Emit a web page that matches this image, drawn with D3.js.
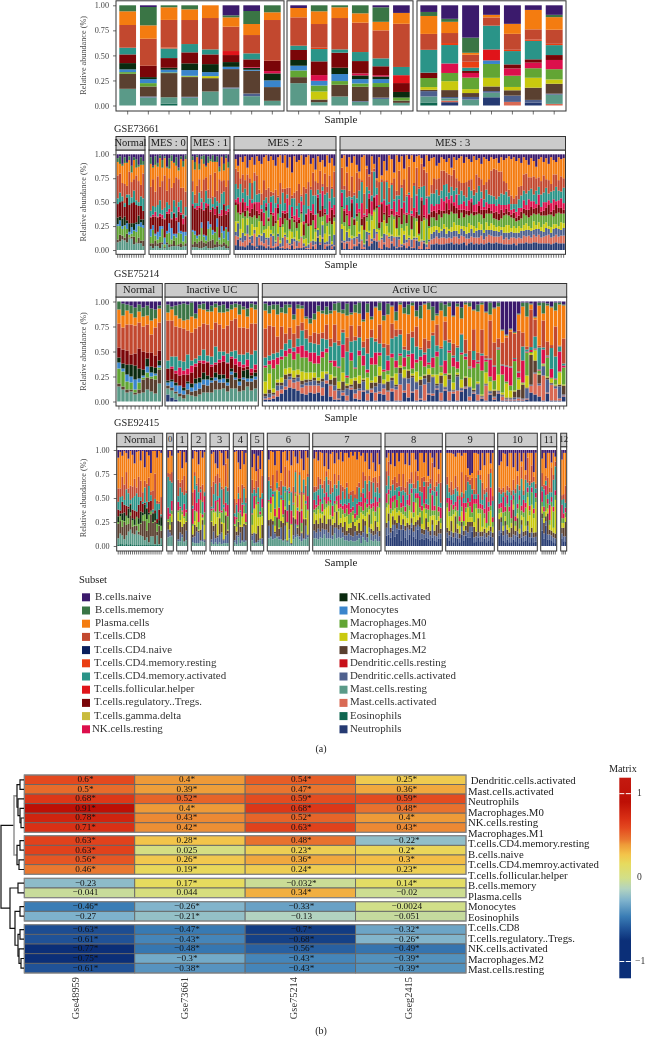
<!DOCTYPE html>
<html><head><meta charset="utf-8">
<script src="https://cdn.jsdelivr.net/npm/d3@7/dist/d3.min.js"></script>
<style>html,body{margin:0;background:#fff}svg{display:block;filter:blur(.3px)}text{font-family:"Liberation Serif",serif}</style>
</head><body><svg id="c" width="645" height="1039"></svg>
<script>
const subsets=["B.cells.naive","B.cells.memory","Plasma.cells","T.cells.CD8","T.cells.CD4.naive","T.cells.CD4.memory.resting","T.cells.CD4.memory.activated","T.cells.follicular.helper","T.cells.regulatory..Tregs.","T.cells.gamma.delta","NK.cells.resting","NK.cells.activated","Monocytes","Macrophages.M0","Macrophages.M1","Macrophages.M2","Dendritic.cells.resting","Dendritic.cells.activated","Mast.cells.resting","Mast.cells.activated","Eosinophils","Neutrophils"];
const subsetColors=["#3b1a6c","#3a7545","#f47c10","#c2482f","#0a1f5c","#ea3e12","#2a9488","#e0141a","#7a0508","#c9bb3c","#dc0f4c","#0a2a0f","#3a85cc","#62a534","#c9c90e","#5a4030","#c8101a","#4e608e","#5a9a88","#d96a55","#0f6650","#253a72"];
const [nv,mm,pl,c8,cn,cr,ca,tf,tr,gd,nr,na,mo,m0,m1,m2,dr,da,ms,ma,eo,ne]=subsets;

// GSE48959 (top panel): percent per subset, listed top of bar to bottom of bar
const topKeys=[nv,mm,pl,c8,cr,ca,tf,tr,nr,na,mo,m0,m1,m2,da,ms,ma,eo,ne];
const topA=[
[0,6,13.7,22.7,0,6.7,0,8.7,0,6.3,2.7,1.7,0,15,0,16.7,0,0,0],
[1.7,18.3,13.3,27,0,0,0,11.3,0,2,4,3.3,0,10,1,8,0,0,0],
[0,2,12.7,27.7,1,9.7,0,9.7,0,2,2.7,.7,0,24.3,0,6.3,0,2,0],
[0,4,10.7,24,0,8.3,0,11,0,6.7,5.7,.7,.6,19.7,.7,8,0,0,0],
[0,0,12.7,31.3,0,5,0,9.7,0,8,4,0,2,13.3,0,14,0,0,0],
[10,2,9.3,24.3,0,0,4,7,0,4.7,2.3,0,0,18.3,1,17,0,0,0],
[5.7,13,11,18.3,0,6,0,7.7,.7,2,1,0,0,22.7,2.7,9.3,0,0,0],
[0,7,7.7,40.7,0,0,0,10.3,2.3,7,6.7,0,0,13.7,0,4.7,0,0,0]];
const topB=[
[2.7,0,9.3,28.3,0,4.3,0,10,0,5.7,4.7,6.7,0,6,0,22.3,0,0,0],
[0,6,12.7,23.7,1.3,12.3,0,13.7,5.7,0,4.7,6,8,2.7,0,3.3,0,0,0],
[0,2,10.7,31.3,0,3.3,0,15,0,6.3,7,3.7,0,11.7,0,9,0,0,0],
[0,8,9.3,29.3,0,9,0,12.3,2,3.7,4.3,3.3,0,14.3,.7,3.7,0,0,0],
[2,14.7,8.7,28.3,0,8,0,9,1.3,2.7,4,4,0,10.7,1.3,6.7,0,0,0],
[7.7,0,11,43.7,0,8.3,8,9,0,5.7,0,3,0,2.3,0,2.7,0,0,0]];
const topC=[
[6.6,4,17.8,15.8,0,22.7,0,5.3,0,0,0,9,2.7,1.3,5.3,6,0,3,0],
[13.5,3,11.2,10,2,18.4,0,0,9.5,0,0,8.2,8.9,6.9,1.3,2.3,1.6,0,3.3],
[32.2,15.1,2,6.9,5.9,3.3,0,2,4.6,0,0,11.5,3.9,3.9,2.6,5.9,0,0,0],
[9.5,0,2.6,8.2,0,23.7,10.9,0,0,0,3.6,13.8,8.6,4.6,1.6,4.6,0,0,8.2],
[18.4,0,9.9,15.8,1.3,13.2,0,4,7.2,0,0,11.2,3.3,5.3,6.2,0,3.6,0,0],
[4.6,0,19.4,10.2,1.3,18.4,0,3.3,5.6,0,0,9.5,9.9,12.2,2.6,0,0,0,3],
[9.5,2.3,12.5,14.1,1.3,9.9,0,4.9,9.2,0,0,10.2,4.3,9.9,1,9.2,1.6,0,0]];

// GSE73661: percent per subset
const keysMesNormal=[nv,mm,pl,c8,ca,tr,na,mo,m0,m2,ms];
const mesNormal=[
[4,4,14,24,6,14,7,2,14,3,8],[2,8,10,20,10,15,4,6,9,7,9],[10,2,18,14,5,18,8,3,7,4,11],[3,6,22,20,4,10,9,1,12,3,10],
[8,1,24,9,3,24,3,6,5,9,8],[2,4,12,24,11,19,9,3,3,1,12],[12,7,10,16,6,21,4,7,3,2,12],[3,3,20,12,12,22,7,1,6,8,6],
[5,9,8,26,5,18,2,8,11,1,7],[11,2,15,22,4,10,9,2,12,6,7],[3,8,21,12,10,14,3,5,14,3,7],[7,4,9,26,13,9,6,3,13,6,4]];
const keysMesEarly=[nv,mm,pl,c8,ca,nr,tr,mo,m0,m2,ms];
const mes0=[
[3,7,24,25,6,1,12,8,7,3,4],[12,2,12,28,9,2,9,5,14,5,2],[2,9,28,16,5,5,18,2,5,6,4],[9,4,10,30,12,1,15,8,4,3,4],
[1,3,30,14,14,3,10,11,6,6,2],[6,8,14,30,5,4,8,3,14,2,6],[2,2,18,34,11,1,19,7,3,1,2],[13,1,24,12,10,2,18,3,9,2,6],
[4,11,10,28,4,5,10,10,12,3,3],[1,6,28,25,7,1,9,12,5,2,4],[8,1,21,18,13,1,21,2,5,6,4],[3,9,12,31,11,3,14,4,8,1,4],
[14,3,9,24,5,5,11,11,12,2,4],[2,3,30,13,13,2,17,3,10,4,3],[7,6,22,28,4,6,8,10,4,1,4],[1,4,34,16,9,1,16,4,8,3,4]];
const mes1=[
[2,4,22,11,13,2,25,2,13,3,3],[8,8,26,9,5,1,23,4,7,6,3],[1,2,30,18,3,4,27,3,5,4,3],[10,6,10,14,14,2,28,1,6,7,2],
[2,3,33,8,4,7,14,6,13,8,2],[1,9,16,24,8,1,25,2,6,5,3],[12,1,11,14,13,5,29,5,3,3,4],[2,7,28,9,6,2,16,8,13,7,2],
[5,2,14,25,12,2,13,3,14,8,2],[1,7,36,8,3,1,23,5,5,9,2],[7,1,11,26,12,6,18,1,12,3,3],[2,6,30,11,5,1,12,9,15,6,3],
[13,5,8,25,11,2,23,2,5,2,4],[2,1,25,13,17,6,11,7,12,3,3],[10,7,10,12,13,1,27,8,4,4,4],[1,3,30,20,5,4,13,2,16,4,2],
[8,6,13,26,4,3,21,9,6,2,2]];
const keysMesLate=[nv,pl,c8,ca,nr,tr,m0,m1,da,ma,ne];
const mes2=[
[5,10,16,16,3,3,17,11,4,10,5],[12,6,18,9,7,9,9,2,14,3,11],[3,22,6,19,11,2,15,9,3,6,4],[8,13,19,6,4,11,6,15,10,4,4],
[2,25,9,14,9,6,18,2,5,7,3],[14,7,22,11,2,3,8,7,9,12,5],[6,19,5,17,14,4,20,1,3,3,8],[3,27,17,4,6,9,7,12,8,2,5],
[11,8,9,22,2,12,12,3,4,13,4],[2,20,20,8,9,8,9,10,11,1,2],[7,30,4,9,12,2,6,14,3,8,5],[10,31,12,4,3,10,13,2,6,4,5],
[3,24,21,13,13,1,4,3,11,3,4],[1,36,8,6,4,4,19,9,2,9,2],[7,28,16,15,1,3,5,12,8,1,4],[2,37,5,6,11,2,16,4,3,12,2],
[6,34,3,18,3,11,8,2,11,2,2],[12,25,14,5,13,3,18,1,2,4,3],[3,40,2,7,4,6,7,14,3,10,4],[1,29,22,14,9,1,14,3,4,1,2],
[9,27,4,19,2,12,3,11,9,2,2],[1,35,15,8,3,5,15,2,2,13,1],[14,21,7,4,15,8,18,2,4,5,2],[3,32,18,14,1,10,2,13,2,4,1],
[19,24,3,9,10,2,14,7,6,1,5],[2,38,6,18,4,3,16,1,3,8,1],[8,30,16,3,13,7,3,10,6,2,2],[6,25,20,15,2,4,17,2,1,6,2],
[1,41,2,5,11,2,9,15,1,11,2],[11,23,19,17,3,12,4,4,3,1,3],[3,33,5,21,1,9,16,8,2,1,1],[1,28,25,3,15,3,18,1,4,1,1],
[10,24,3,22,2,13,1,16,1,7,1],[4,15,24,9,11,6,20,1,5,1,4],[16,12,15,20,14,1,3,10,3,5,1],[2,28,7,5,3,17,15,2,7,1,13],
[9,10,26,19,1,7,21,8,1,2,6],[6,25,3,4,16,11,5,4,13,1,12],[13,7,22,15,4,2,20,9,2,5,1],[1,33,6,23,8,1,3,16,3,2,4],
[9,13,24,3,17,4,14,1,9,1,5],[4,30,2,20,2,15,18,3,2,3,1],[12,6,27,8,10,3,4,14,11,1,4]];
const mes3=[
[4,10,23,3,14,1,18,5,13,1,8],[1,32,4,20,2,12,4,15,2,7,1],[13,6,26,8,9,2,16,1,10,2,7],[3,35,6,15,15,1,3,9,4,8,1],
[9,14,22,2,4,15,19,3,1,10,1],[2,38,3,24,1,6,12,1,7,2,4],[11,8,27,5,11,3,5,16,2,8,4],[18,7,13,19,3,1,20,2,9,1,7],
[3,24,2,22,16,7,1,14,1,9,1],[1,40,21,1,2,14,14,1,3,2,1],[12,3,19,23,7,2,4,11,8,1,10],[21,2,15,3,5,16,18,2,2,12,4],
[2,16,25,6,14,1,5,19,3,2,7],[10,5,3,26,1,13,2,18,10,2,10],[25,2,8,7,12,2,22,3,2,8,9],[3,26,24,2,16,6,2,11,1,7,2],
[22,4,3,21,2,19,15,1,2,10,1],[7,21,19,1,13,2,6,14,9,2,6],[17,10,2,24,1,18,3,9,1,12,3],[1,34,15,2,12,2,16,4,2,10,2],
[5,25,2,25,2,4,21,1,6,2,7],[19,6,22,2,15,1,3,18,1,9,4],[1,37,5,17,3,14,1,8,11,1,2],[8,9,26,4,17,2,19,1,3,8,3],
[2,30,3,21,1,16,4,17,2,1,3],[15,11,23,1,12,1,17,4,9,2,5],[1,41,2,17,2,9,3,14,3,6,2],[5,8,27,2,20,1,22,2,2,7,4],
[1,44,14,3,2,14,1,10,8,1,2],[8,22,3,23,9,1,20,1,2,9,2],[2,12,28,1,17,7,3,17,2,1,10],[1,33,2,27,1,19,2,6,5,3,1],
[4,6,24,11,3,22,19,1,1,8,1],[13,3,17,20,11,2,3,21,2,1,7],[1,18,25,2,21,1,25,1,3,2,1],[7,36,1,18,1,12,2,12,2,8,1],
[4,28,9,11,8,6,10,7,6,5,6],[3,22,16,13,5,7,9,6,7,6,6],[12,14,11,15,9,8,6,4,7,7,7],[9,16,18,9,6,5,13,6,6,6,6],
[3,14,21,8,13,7,12,2,7,7,6],[5,12,15,17,10,3,11,5,9,7,6],[8,11,12,13,7,11,14,7,5,5,7],[4,17,19,7,11,5,15,2,7,6,7],
[14,8,12,9,8,9,16,5,7,4,8],[3,13,22,12,4,8,9,9,6,8,6],[6,19,10,7,14,6,12,6,6,7,7],[4,24,14,11,5,9,7,9,5,6,6],
[2,28,8,14,6,3,14,3,7,8,7],[9,21,13,6,9,8,9,5,6,6,8],[3,26,16,9,5,4,13,7,5,7,5],[5,22,7,14,11,5,8,10,6,5,7],
[8,18,12,8,4,12,12,4,8,6,8],[2,35,6,10,7,4,11,7,5,7,6],[6,15,19,12,8,3,14,3,7,6,7],[4,20,9,16,5,8,9,8,8,7,6],
[10,16,13,7,12,5,10,6,6,8,7],[3,29,15,8,3,9,12,3,7,5,6],[5,24,8,13,8,4,9,8,7,7,7],[7,19,16,10,4,6,13,4,5,8,8],
[3,14,26,9,7,3,10,7,6,8,7],[5,10,29,8,9,6,7,6,6,7,7],[4,12,31,7,6,8,8,4,6,6,8],[9,9,26,8,10,7,6,6,5,7,7],
[3,15,23,12,5,9,9,3,6,8,7],[6,22,14,11,8,3,12,6,7,5,6],[4,26,9,14,4,6,11,8,5,7,6],[2,35,7,8,8,4,10,8,7,5,6],
[5,38,9,6,5,3,11,4,6,7,6],[3,43,6,5,4,6,8,7,5,6,7],[7,36,9,8,6,4,7,5,6,7,5],[4,30,13,9,8,5,6,7,5,6,7],
[9,24,10,13,4,7,10,3,8,5,7],[3,18,17,10,9,5,12,6,5,8,7],[6,14,21,12,5,6,8,7,7,6,8],[11,13,14,9,11,8,9,4,6,8,7],
[4,20,12,13,6,9,13,3,7,6,7],[7,16,19,7,8,5,8,9,5,8,8],[13,12,13,14,4,7,11,4,8,6,8],[5,19,10,8,11,9,9,7,6,9,7],
[3,25,14,13,5,4,12,4,7,6,7],[8,14,18,10,9,5,9,8,5,7,7],[4,22,9,15,6,8,7,6,8,8,7],[10,17,14,7,5,10,12,3,6,9,7],
[3,28,8,12,9,3,13,6,5,7,6],[6,15,17,9,11,7,8,5,8,7,7],[8,13,13,15,4,9,11,4,7,8,8],[3,24,11,10,8,5,14,3,8,7,7],
[5,18,16,7,10,6,9,8,6,8,7],[4,21,10,16,7,4,10,5,8,8,7]];

// GSE75214: percent per subset
const keysUcNormal=[nv,mm,pl,c8,tr,na,mo,m0,m2,ms];
const ucNormal=[
[0,8,14,24,10,5,6,15,3,15],[2,12,12,22,14,5,3,15,3,12],[3,6,14,26,14,10,7,8,3,9],[4,8,11,30,10,12,6,7,2,10],
[6,10,8,28,12,14,10,3,2,7],[3,7,11,26,20,10,4,7,4,8],[6,9,10,25,18,6,2,2,13,9],[4,10,9,28,6,8,6,5,12,12],
[7,12,14,18,14,6,4,2,13,10],[8,9,9,28,12,6,2,4,14,8],[4,3,14,28,10,5,2,2,14,18]];
const keysUcInactive=[nv,mm,pl,c8,ca,nr,tr,na,mo,m2,ms,ne];
const ucInactive=[
[3,8,8,40,8,0,12,2,3,3,6,7],[5,3,11,36,10,2,11,2,6,3,7,4],[4,10,11,30,14,3,9,3,6,2,6,2],[3,14,9,33,7,8,10,0,8,3,5,0],
[2,17,8,33,9,4,13,3,4,4,3,0],[3,15,11,24,14,6,7,2,6,5,7,0],[1,14,16,28,5,7,11,4,4,4,6,0],[12,5,10,30,5,3,12,5,7,6,5,0],
[3,4,18,29,5,2,15,5,6,6,7,0],[2,6,14,26,11,3,9,7,5,8,9,0],[8,2,13,31,6,1,13,4,6,7,9,0],[4,6,18,27,8,2,11,3,2,10,9,0],
[2,4,15,24,16,2,8,5,3,9,12,0],[4,7,12,27,8,3,12,5,3,7,12,0],[3,8,16,23,4,6,13,4,4,6,13,0],[7,3,14,28,9,1,15,4,3,6,10,0],
[3,5,11,31,5,2,10,3,3,14,13,0],[2,4,11,32,8,6,8,5,2,9,13,0],[3,10,13,27,7,5,12,3,4,6,10,0],[5,3,18,27,10,3,3,7,2,11,11,0],
[7,8,12,24,7,7,3,9,3,5,15,0],[2,4,16,31,14,4,3,3,3,9,11,0],[3,5,14,27,14,5,3,4,3,9,13,0]];
const keysUcActive=[nv,mm,pl,c8,ca,nr,m0,m1,m2,da,ma,ne];
const ucActive=[
[2,7,18,29,8,2,14,12,3,2,1,2],[4,8,12,30,5,4,9,16,4,4,2,2],[3,5,17,27,6,9,20,4,2,1,3,3],[3,10,22,16,5,7,15,3,3,5,6,5],
[6,5,14,23,7,3,18,5,3,4,4,8],[3,9,20,10,7,6,12,6,5,7,3,12],[3,3,20,12,9,5,14,6,3,3,8,14],[13,5,14,14,4,8,11,7,2,3,6,13],
[3,4,17,13,8,7,16,5,3,4,9,11],[4,3,14,8,15,12,14,9,4,3,6,8],[15,2,11,9,12,7,15,7,3,3,9,7],[17,5,12,7,10,9,11,7,2,4,7,9],
[12,6,13,11,9,11,9,5,3,5,8,8],[4,6,22,11,11,8,14,3,3,2,7,9],[9,3,19,6,13,6,14,7,3,6,8,6],
[5,8,10,15,9,4,19,2,1,6,3,18],[9,3,25,8,14,2,12,5,5,1,11,5],[2,7,14,18,18,6,10,1,8,5,9,2],[1,10,28,5,21,1,14,7,2,8,1,2],
[8,4,16,3,12,13,15,9,9,2,3,6],[2,12,22,14,24,2,6,2,3,7,5,1],[11,2,11,16,11,8,18,6,2,1,2,12],[3,8,24,4,27,1,9,3,9,4,5,3],
[1,11,12,12,13,5,20,8,5,2,9,2],[18,2,20,6,8,10,13,1,2,9,1,10],[2,9,26,15,16,3,5,12,1,3,7,1],[15,3,10,8,20,7,16,2,6,1,3,9],
[5,1,31,3,11,12,12,6,4,6,8,1],[1,8,14,19,9,3,11,9,8,8,2,8],[14,5,23,4,22,2,8,4,1,4,6,7],[2,11,30,11,5,10,4,7,9,1,9,1],
[4,1,17,15,15,4,19,1,3,8,3,10],[10,9,9,7,24,7,6,11,2,3,11,1],[1,2,25,5,19,2,10,2,6,11,16,1],[6,6,33,3,8,9,3,8,1,12,2,9],
[3,10,19,17,4,2,13,1,8,5,14,4],[1,3,26,6,16,15,5,2,2,14,1,9],[9,6,10,20,13,3,9,10,1,7,11,1],[4,13,29,2,7,4,16,3,6,13,1,2],
[2,1,34,14,2,12,8,1,3,6,16,1],[1,7,31,8,14,2,4,6,8,11,1,7],[5,14,12,3,22,10,7,2,1,16,2,6],[12,2,9,21,6,5,18,9,2,3,1,12],
[1,8,36,2,17,1,6,3,8,9,8,1],[3,12,5,19,20,13,2,11,1,2,1,11],[1,4,33,3,8,2,21,1,5,12,9,1],[14,1,27,12,2,9,16,7,1,1,2,8],
[2,3,39,2,14,7,4,2,2,14,10,1],[6,11,15,1,18,2,25,8,1,2,1,10],[1,2,35,14,3,3,17,1,9,1,1,13],[1,4,44,16,1,1,9,9,1,9,4,1],
[8,1,19,22,9,8,21,1,2,1,1,8],[3,7,41,8,1,2,18,2,1,10,6,1],[1,2,25,24,2,15,24,1,1,1,1,3],[10,1,43,3,1,2,11,11,1,1,15,1],
[1,12,6,38,1,17,5,9,1,2,1,7],[6,1,34,23,1,14,9,1,6,1,2,2],[1,4,32,9,1,1,25,16,1,1,1,8],[28,1,12,22,1,9,18,2,1,1,4,1],
[33,1,2,28,1,15,2,14,1,1,1,1],[27,1,2,35,1,18,5,7,1,1,1,1],[30,1,1,24,1,2,29,1,6,2,1,1],[12,1,16,41,1,5,2,10,8,1,2,1],
[1,4,26,14,14,22,1,1,14,1,1,1],[1,14,30,3,2,1,23,12,1,10,1,2],[2,1,5,38,3,2,1,2,30,1,7,9],[15,1,2,17,12,1,1,10,12,1,21,7],
[1,3,40,2,22,1,3,1,9,2,11,5],[1,11,7,27,2,14,1,1,1,9,25,1],[2,2,36,14,1,1,19,1,2,13,1,8],[5,1,38,3,21,9,1,4,1,1,16,1],
[1,8,16,30,22,1,5,1,1,2,12,1],[1,2,41,1,5,20,1,12,2,12,2,1],[3,1,33,25,2,2,17,1,9,1,1,5]];

// GSE92415: percent per subset
const keysPsoNormal=[nv,pl,c8,ca,tr,na,m0,m2,ms,eo];
const psoNormal=[
[8,32,14,8,7,6,2,15,7,1],[2,38,9,14,3,3,5,13,11,2],[6,22,20,6,12,7,7,9,9,2],[1,35,16,5,8,9,1,18,6,1],
[3,20,18,17,10,1,9,11,9,2],[9,31,5,14,2,10,6,8,14,1],[1,36,15,4,1,8,3,15,15,2],[5,33,12,12,9,2,7,7,12,1],
[14,16,18,15,9,6,1,9,11,1],[2,37,6,19,5,1,9,5,15,1],[1,27,21,8,14,6,8,3,11,1],[11,21,17,4,11,12,1,12,10,1],
[1,43,10,2,9,3,6,16,9,1],[18,14,7,16,2,10,7,20,5,1],[2,33,19,6,1,11,12,7,8,1],[6,24,9,17,12,2,9,21,3,1],
[24,19,4,6,10,1,3,23,9,1],[1,41,20,3,1,9,1,14,9,1],[1,24,27,12,3,8,1,24,1,1],[8,45,3,16,4,1,8,4,10,1],
[1,53,2,6,11,5,1,19,1,1],[3,46,18,2,1,9,5,8,7,1]];
const keysPsoEarly=[nv,pl,c8,ca,nr,m0,m1,m2,da,ms];
const pso0=[[8,16,4,32,12,2,1,8,8,9],[1,24,7,34,3,9,5,3,4,10],[6,17,11,19,10,4,8,14,1,10]];
const pso1=[[3,28,17,6,9,2,9,19,2,5],[1,33,5,20,2,12,2,11,9,5],[19,12,13,19,1,3,13,8,3,9],[2,25,20,9,13,2,6,18,1,4],[13,29,3,17,3,9,1,9,10,6]];
const pso2=[[9,35,14,3,16,2,9,3,5,4],[1,22,4,14,22,11,4,12,7,3],[2,33,2,18,9,1,15,5,12,3],[15,14,15,7,24,8,1,2,11,3],[1,37,3,3,8,14,17,11,1,5],[8,28,18,13,3,1,2,5,17,5],[2,41,1,4,17,13,15,1,2,4]];
const pso3=[[4,34,21,2,2,11,1,18,3,4],[2,31,13,15,1,3,14,6,13,2],[14,13,8,18,11,1,12,15,4,4],[19,6,23,4,2,16,19,2,7,2],[1,28,5,16,14,2,5,17,8,4],[3,35,3,22,2,10,2,9,12,2],[16,24,17,3,1,15,17,1,3,3],[1,13,24,17,9,1,3,21,8,3],[9,30,4,14,12,14,1,3,10,3]];
const pso4=[[2,49,15,3,8,1,1,15,2,4],[1,54,2,13,2,8,5,4,9,2],[13,25,7,6,14,9,1,14,2,9],[20,30,13,2,1,12,2,6,11,3],[1,35,19,2,12,1,10,14,1,5],[15,23,2,17,1,8,11,3,16,4],[3,47,5,11,9,2,1,16,1,5]];
const pso5=[[18,13,14,21,1,11,9,2,5,6],[4,35,2,7,13,1,24,1,10,3],[22,10,13,3,1,8,30,9,1,3],[6,13,20,15,2,14,9,15,2,4],[20,29,1,14,3,3,22,1,1,6],[1,26,18,6,9,9,9,14,6,2]];
const pso6=[
[10,18,4,20,1,2,18,6,13,8],[1,36,3,9,7,9,7,18,1,9],[2,24,17,3,2,1,25,4,15,7],[16,26,1,18,8,10,6,2,5,8],[1,20,13,6,1,1,28,20,1,9],
[1,37,5,17,12,9,1,8,3,7],[24,8,15,3,1,1,22,7,12,7],[2,35,1,14,15,3,6,18,1,5],[1,16,21,5,1,15,3,17,14,7],[11,29,2,21,12,1,18,1,1,4],
[1,20,18,4,2,8,4,26,9,8],[16,27,1,19,14,1,19,1,1,1],[1,37,17,1,1,12,1,19,4,7],[7,14,2,21,1,3,24,5,14,9],[14,33,13,3,15,2,1,7,2,10],
[1,22,3,19,1,1,17,26,3,7],[9,34,19,1,13,9,1,1,8,5],[21,9,1,14,1,1,25,20,1,7],[1,36,16,3,1,14,1,7,14,7],[8,17,3,20,14,1,25,1,2,9]];
const pso7=[
[9,29,6,8,10,3,12,7,8,8],[2,36,5,14,3,7,6,13,6,8],[11,17,13,6,11,4,15,5,11,7],[2,28,6,15,3,12,5,14,6,9],[3,33,4,16,8,3,9,6,10,8],
[17,15,13,4,3,10,6,15,5,12],[3,19,6,16,12,4,17,6,9,8],[20,11,5,13,4,5,14,14,6,8],[4,28,14,6,3,13,4,7,13,8],[2,37,5,14,11,3,6,11,4,7],
[14,11,11,17,3,9,11,5,6,13],[3,33,4,8,5,4,7,17,11,8],[10,16,6,15,14,3,14,5,8,9],[2,34,16,4,4,11,5,5,11,8],[12,26,5,15,4,5,13,6,5,9],
[3,37,11,5,10,4,5,14,5,6],[3,31,5,18,4,8,15,5,5,6],[8,37,6,4,12,10,4,6,8,5],[2,41,4,14,4,11,5,8,5,6],[6,36,12,5,4,5,7,15,5,5],
[2,44,4,16,5,4,4,6,10,5],[10,28,13,5,12,5,11,5,5,6],[2,32,5,15,4,13,5,11,5,8],[6,38,5,5,5,6,19,5,8,3],[3,20,17,5,18,4,5,14,5,9],
[12,15,5,18,5,14,5,5,15,6],[3,32,16,5,4,5,22,4,5,4],[20,7,5,11,15,4,5,14,5,14],[3,30,18,5,5,16,5,5,7,6],[13,16,5,21,4,5,20,5,6,5],
[22,6,16,5,15,5,5,14,5,7],[3,31,5,15,5,16,5,5,10,5],[15,12,18,5,5,5,24,6,5,5]];
const keysPsoLate=[nv,pl,c8,ca,nr,m0,m1,m2,da,ne];
const pso8=[
[8,14,15,8,10,5,16,5,8,11],[3,9,15,14,5,11,9,8,14,12],[15,22,5,8,11,5,15,5,5,9],[3,28,5,12,6,9,6,9,6,16],
[17,11,14,5,5,9,12,5,12,10],[3,31,5,13,8,5,11,6,5,13],[12,13,13,5,5,15,5,8,7,17],[3,35,5,12,5,5,13,5,11,6],
[3,22,17,5,12,8,5,6,5,17],[15,24,5,15,5,5,10,5,7,9],[3,30,14,5,5,14,5,5,12,7],[16,14,5,11,12,5,15,5,5,12],
[3,20,12,5,5,20,6,5,5,19],[3,32,5,14,11,5,8,7,5,10],[10,12,18,5,5,5,20,5,12,8],[22,5,5,13,5,18,5,5,5,17],
[3,35,5,5,12,5,5,10,13,7],[3,26,15,14,5,14,5,5,5,8],[13,15,5,5,18,5,22,5,5,7],[3,30,18,5,5,5,5,12,8,9],
[27,6,5,19,5,13,5,5,7,8],[3,27,5,5,5,24,15,5,5,6],[8,5,29,5,16,5,5,5,13,9],[18,20,5,15,5,5,16,5,5,6],
[3,30,5,5,5,25,5,12,5,5],[20,5,10,24,5,5,5,13,5,8],[3,31,21,5,11,5,6,5,5,8]];
const pso9=[
[3,25,8,14,5,5,21,5,5,9],[3,36,5,6,14,5,15,5,5,6],[3,30,14,5,5,12,5,11,5,10],[4,37,5,11,5,5,19,5,5,4],
[7,20,13,14,5,5,5,17,5,9],[3,35,5,5,15,14,5,5,5,8],[3,44,5,17,5,5,8,5,4,4],[6,17,21,5,10,5,11,5,8,12],
[3,42,5,5,19,5,5,5,5,6],[3,23,16,13,5,5,14,5,5,11],[19,9,5,17,5,5,15,11,5,9],[26,5,5,18,5,11,5,5,11,9],
[24,5,12,5,19,5,5,5,5,15],[3,38,5,5,5,19,5,11,5,4],[3,26,17,5,5,5,24,5,5,5],[4,17,5,20,15,5,5,15,5,9],
[21,5,5,25,5,5,19,5,5,5],[3,31,18,5,5,18,5,5,5,5],[16,25,5,15,5,5,11,5,5,8],[3,36,5,5,27,5,5,5,5,4],
[3,22,29,5,5,15,5,5,5,6],[14,5,5,15,19,5,17,5,5,10],[3,45,5,17,5,5,6,5,5,4]];
const pso10=[
[16,23,5,12,5,5,6,12,5,11],[12,29,5,9,5,5,5,5,11,14],[3,36,5,5,16,14,5,5,5,6],[4,40,5,10,5,5,5,5,17,4],
[17,20,5,5,9,22,5,5,5,7],[3,36,5,15,5,17,5,5,5,4],[3,39,5,5,19,5,5,10,5,4],[18,13,11,5,5,5,5,26,5,7],
[3,37,5,24,5,5,5,5,6,5],[22,5,9,20,5,5,5,14,5,10],[3,34,5,5,5,30,5,5,5,3],[12,5,13,28,5,5,5,5,13,9],
[3,39,5,5,13,5,15,5,5,5],[21,5,5,24,5,19,5,5,5,6],[3,5,26,5,5,5,25,5,5,16],[3,29,5,21,5,5,18,5,5,4],
[3,13,18,5,5,13,24,5,5,9],[23,5,5,28,5,5,15,5,5,4],[3,34,5,5,5,5,33,5,5,5]];
const pso11=[[9,15,14,5,11,5,7,5,13,16],[3,33,5,18,5,7,5,11,5,8],[19,8,5,5,10,17,5,5,5,21],[3,26,17,5,5,5,5,22,5,7],[3,36,5,13,16,5,5,5,5,7],[13,5,26,5,5,5,25,5,5,6],[3,23,5,28,5,17,5,5,5,4],[7,5,5,25,5,5,35,5,5,3]];
const pso12=[[10,37,5,5,14,5,5,6,5,8],[3,43,5,15,5,5,5,9,5,5],[3,34,18,5,5,5,5,15,5,5]];

const panelTitles=["GSE73661","GSE75214","GSE92415"];
const mesLabels=["Normal","MES : 0","MES : 1","MES : 2","MES : 3"];
const ucLabels=["Normal","Inactive UC","Active UC"];
const psoLabels=["Normal","0","1","2","3","4","5","6","7","8","9","10","11","12"];
const yTicks=[0,.25,.5,.75,1];

// correlation heatmap
const heatCols=["Gse48959","Gse73661","Gse75214","Gseg2415"];
const heatRows=["Dendritic.cells.activated","Mast.cells.activated","Neutrophils","Macrophages.M0","NK.cells.resting","Macrophages.M1","T.cells.CD4.memory.resting","B.cells.naive","T.cells.CD4.memroy.activated","T.cells.follicular.helper","B.cells.memory","Plasma.cells","Monocytes","Eosinophils","T.cells.CD8","T.cells.regulatory..Tregs.","NK.cells.activated","Macrophages.M2","Mast.cells.resting"];
const heatLabels=[
["0.6*","0.4*","0.54*","0.25*"],["0.5*","0.39*","0.47*","0.36*"],["0.68*","0.52*","0.59*","0.59*"],["0.91*","0.4*","0.68*","0.48*"],["0.78*","0.43*","0.52*","0.4*"],["0.71*","0.42*","0.63*","0.43*"],
["0.63*","0.28*","0.48*","−0.22*"],["0.63*","0.025","0.23*","0.2*"],["0.56*","0.26*","0.36*","0.3*"],["0.46*","0.19*","0.24*","0.23*"],
["−0.23","0.17*","−0.032*","0.14*"],["−0.041","0.044","0.34*","−0.02"],
["−0.46*","−0.26*","−0.33*","−0.0024"],["−0.27","−0.21*","−0.13","−0.051"],
["−0.63*","−0.47*","−0.7*","−0.32*"],["−0.61*","−0.43*","−0.68*","−0.26*"],["−0.77*","−0.48*","−0.56*","−0.49*"],["−0.75*","−0.3*","−0.43*","−0.39*"],["−0.61*","−0.38*","−0.43*","−0.39*"]];
const heatStops=[-1.2,-.75,-.6,-.46,-.27,-.13,0,.17,.28,.4,.46,.6,.71,.91,1.2];
const heatColors=["#0b2f78","#0b2f78","#215599","#3a7db5","#7eb2cc","#b2d3c0","#d2df88","#e6db5e","#f3c44a","#ee9a38","#e97830","#e3491f","#d93015","#bd0f05","#c41a10"];
const heatGroups=[6,4,2,2,5];
const dendro={h:23,c:[
 {h:10,g:1,c:[
  {h:7,g:1,c:[{h:4,c:[{l:0},{l:1}]},{h:6,c:[{l:2},{h:4,c:[{l:3},{h:3,c:[{l:4},{l:5}]}]}]}]},
  {h:7,g:1,c:[{h:4,c:[{l:6},{l:7}]},{h:5,c:[{l:8},{l:9}]}]}]},
 {h:14,c:[
  {h:6,c:[{l:10},{l:11}]},
  {h:9,c:[{h:4,c:[{l:12},{l:13}]},
   {h:6,c:[{h:4,c:[{l:14},{l:15}]},{h:5,c:[{l:16},{h:3,c:[{l:17},{l:18}]}]}]}]}]}]};

const svg=d3.select("#c");
const color=d3.scaleOrdinal(subsets,subsetColors);
const ink="#333";

function text(g,x,y,s,size,opt={}){return g.append("text").attr("x",x).attr("y",y).attr("font-size",size).attr("fill",opt.fill||"#222").attr("text-anchor",opt.anchor||"start").attr("dominant-baseline","middle").text(s);}

function facet(f,top,bottom,frameTop,frameBottom,showY,inner,outer){
  const g=svg.append("g");
  const x=d3.scaleBand().domain(d3.range(f.rows.length)).range([f.x0,f.x1]).paddingInner(inner).paddingOuter(outer);
  const y=d3.scaleLinear().domain([0,1]).range([bottom,top]);
  const rows=f.rows.map(r=>Object.fromEntries(f.keys.map((k,i)=>[k,r[i]||0])));
  const series=d3.stack().keys(f.keys.slice().reverse()).offset(d3.stackOffsetExpand)(rows);
  g.append("g").selectAll("g").data(series).join("g").attr("fill",d=>color(d.key))
    .selectAll("rect").data(d=>d).join("rect")
    .attr("x",(d,i)=>x(i)).attr("width",x.bandwidth())
    .attr("y",d=>y(d[1])).attr("height",d=>y(d[0])-y(d[1]));
  g.append("rect").attr("x",f.x0).attr("y",frameTop).attr("width",f.x1-f.x0).attr("height",frameBottom-frameTop).attr("fill","none").attr("stroke",ink).attr("stroke-width",1);
  const ax=g.append("g").attr("transform",`translate(0,${frameBottom})`).call(d3.axisBottom(x).tickSize(3.5).tickFormat(""));
  ax.select(".domain").remove();ax.selectAll("line").attr("stroke","#333").attr("stroke-width",.7);
  if(f.label!==undefined){
    g.append("rect").attr("x",f.x0).attr("y",frameTop-13.5).attr("width",f.x1-f.x0).attr("height",13.5).attr("fill","#cbcbcb").attr("stroke",ink).attr("stroke-width",1);
    text(g,(f.x0+f.x1)/2,frameTop-6.5,f.label,f.x1-f.x0<8?8.5:10.5,{anchor:"middle",fill:"#1a1a1a"});
  }
  if(showY){
    const ay=g.append("g").attr("transform",`translate(${f.x0},0)`).call(d3.axisLeft(y).tickValues(yTicks).tickSize(3).tickFormat(d3.format(".2f")));
    ay.select(".domain").remove();ay.selectAll("line").attr("stroke","#333").attr("stroke-width",.7);
    ay.selectAll("text").attr("font-size",8.2).attr("fill","#444").attr("dx",-1);
    g.append("text").attr("transform",`translate(84,${(top+bottom)/2}) rotate(-90)`).attr("text-anchor","middle").attr("dominant-baseline","middle").attr("font-size",8.2).attr("fill","#444").text("Relative abundance (%)");
  }
}
function sampleLabel(x,y){text(svg,x,y,"Sample",11,{anchor:"middle"});}

// top panel
[{keys:topKeys,rows:topA,x0:116,x1:284},{keys:topKeys,rows:topB,x0:287,x1:413},{keys:topKeys,rows:topC,x0:417,x1:566}]
 .forEach((f,i)=>facet(f,5.3,105.5,.8,111,i===0,.19,.16));
sampleLabel(341,120.5);

// GSE73661
text(svg,114,130,panelTitles[0],10.3);
[[116,145,keysMesNormal,mesNormal],[149,187.3,keysMesEarly,mes0],[191,230,keysMesEarly,mes1],[234,336,keysMesLate,mes2],[340,565.5,keysMesLate,mes3]]
 .forEach((d,i)=>facet({x0:d[0],x1:d[1],keys:d[2],rows:d[3],label:mesLabels[i]},154.3,250,150,254.3,i===0,.12,.3));
sampleLabel(341,265);

// GSE75214
text(svg,114,275,panelTitles[1],10.3);
[[116,162.3,keysUcNormal,ucNormal],[165,258.3,keysUcInactive,ucInactive],[262.3,566.7,keysUcActive,ucActive]]
 .forEach((d,i)=>facet({x0:d[0],x1:d[1],keys:d[2],rows:d[3],label:ucLabels[i]},301.5,401.5,297,406,i===0,.14,.3));
sampleLabel(341,418);

// GSE92415
text(svg,114,424,panelTitles[2],10.3);
[[116.7,162.7,keysPsoNormal,psoNormal],[166.7,173.3,keysPsoEarly,pso0],[176.7,187.7,keysPsoEarly,pso1],[191.3,206,keysPsoEarly,pso2],[210,229.3,keysPsoEarly,pso3],[233.3,247.3,keysPsoEarly,pso4],[250.7,263.7,keysPsoEarly,pso5],[267.3,309.3,keysPsoEarly,pso6],[312.7,381,keysPsoEarly,pso7],[385,442.3,keysPsoLate,pso8],[445.7,494.3,keysPsoLate,pso9],[497.7,537.3,keysPsoLate,pso10],[540.7,556.7,keysPsoLate,pso11],[560.7,566.7,keysPsoLate,pso12]]
 .forEach((d,i)=>facet({x0:d[0],x1:d[1],keys:d[2],rows:d[3],label:psoLabels[i]},450,546,446.7,551,i===0,.12,.3));
sampleLabel(341,563);

// legend
text(svg,79,581,"Subset",10.5);
const legendY=d3.scalePoint().domain(d3.range(11)).range([597.3,729.3]);
subsets.forEach((s,i)=>{
  const col=i<11?0:1,row=i%11,yy=legendY(row);
  svg.append("rect").attr("x",col?339.5:82).attr("y",yy-4).attr("width",8).attr("height",8).attr("fill",color(s));
  text(svg,col?350:(i===10?92:(i<3?95:94)),yy,s,10.9,{fill:"#333"});
});
text(svg,321,750,"(a)",10,{anchor:"middle"});
text(svg,321,1032,"(b)",10,{anchor:"middle"});

// heatmap
const heatColor=d3.scaleLinear().domain(heatStops).range(heatColors);
const parse=s=>+s.replace("−","-").replace("*","");
const heatX=d3.scaleBand().domain(heatCols).range([24.3,466]);
const groupEdges=[[775,832.3],[835.7,874.3],[878.3,897.7],[901.7,921],[924.7,973]];
const colNudge=[6,-3,1,-4];
const rowCenter=[];
let start=0;
const hg=svg.append("g");
heatGroups.forEach((n,gi)=>{
  const idx=d3.range(start,start+n);start+=n;
  const yb=d3.scaleBand().domain(idx).range(groupEdges[gi]);
  idx.forEach(r=>{
    rowCenter[r]=yb(r)+yb.bandwidth()/2;
    heatCols.forEach((c,ci)=>{
      hg.append("rect").attr("x",heatX(c)).attr("y",yb(r)).attr("width",heatX.bandwidth()).attr("height",yb.bandwidth())
        .attr("fill",heatColor(parse(heatLabels[r][ci]))).attr("stroke","#666").attr("stroke-width",.9);
    });
  });
  hg.append("rect").attr("x",24.3).attr("y",groupEdges[gi][0]).attr("width",441.7).attr("height",groupEdges[gi][1]-groupEdges[gi][0]).attr("fill","none").attr("stroke","#888").attr("stroke-width",1);
  idx.forEach(r=>heatCols.forEach((c,ci)=>{
    text(hg,heatX(c)+heatX.bandwidth()/2+colNudge[ci],rowCenter[r]+.4,heatLabels[r][ci],9.2,{anchor:"middle",fill:"#111"});
  }));
});
const rowLabelY=d3.scalePoint().domain(heatRows).range([781.7,971]);
heatRows.forEach((r,i)=>text(svg,i===0?470.7:468,rowLabelY(r),r,10.8,{fill:"#222"}));
heatCols.forEach((c,i)=>{
  svg.append("text").attr("transform",`translate(${[77,186,295,410][i]},977) rotate(-90)`).attr("text-anchor","end").attr("dominant-baseline","middle").attr("font-size",10.4).attr("fill","#333").text(c);
});

// dendrogram
const dx=d3.scaleLinear().domain([0,23]).range([24,1]);
const root=d3.hierarchy(dendro,d=>d.c);
root.eachAfter(n=>{
  n.px=dx(n.data.h||0);
  n.py=n.children?(n.children[0].py+n.children[n.children.length-1].py)/2:rowCenter[n.data.l];
});
const dg=svg.append("g").attr("fill","none");
root.each(n=>{
  if(!n.children)return;
  const p=d3.path();
  p.moveTo(n.children[0].px,n.children[0].py);p.lineTo(n.px,n.children[0].py);
  p.lineTo(n.px,n.children[1].py);p.lineTo(n.children[1].px,n.children[1].py);
  dg.append("path").attr("d",p.toString()).attr("stroke",n.data.g&&n.data.h===10?"#999":"#111").attr("stroke-width",n.data.g&&n.data.h===10?1.6:1.2);
});

// colour bar
const barY=d3.scaleLinear().domain([-1.2,1.19]).range([978.3,777.7]);
const defs=svg.append("defs");
const grad=defs.append("linearGradient").attr("id","bar").attr("x1",0).attr("x2",0).attr("y1",1).attr("y2",0);
heatStops.forEach((s,i)=>grad.append("stop").attr("offset",(s+1.2)/2.4).attr("stop-color",heatColors[i]));
svg.append("rect").attr("x",619.3).attr("y",barY(1.19)).attr("width",11.7).attr("height",barY(-1.2)-barY(1.19)).attr("fill","url(#bar)");
text(svg,609,770,"Matrix",10.2);
[1,0,-1].forEach(v=>{
  if(v)svg.append("line").attr("x1",619.3).attr("x2",631).attr("y1",barY(v)).attr("y2",barY(v)).attr("stroke","#fff").attr("stroke-width",1).attr("stroke-dasharray","5 1.5");
  text(svg,v<0?635:637,barY(v),v<0?"−1":String(v),9.6,{fill:"#333"});
});
</script></body></html>
